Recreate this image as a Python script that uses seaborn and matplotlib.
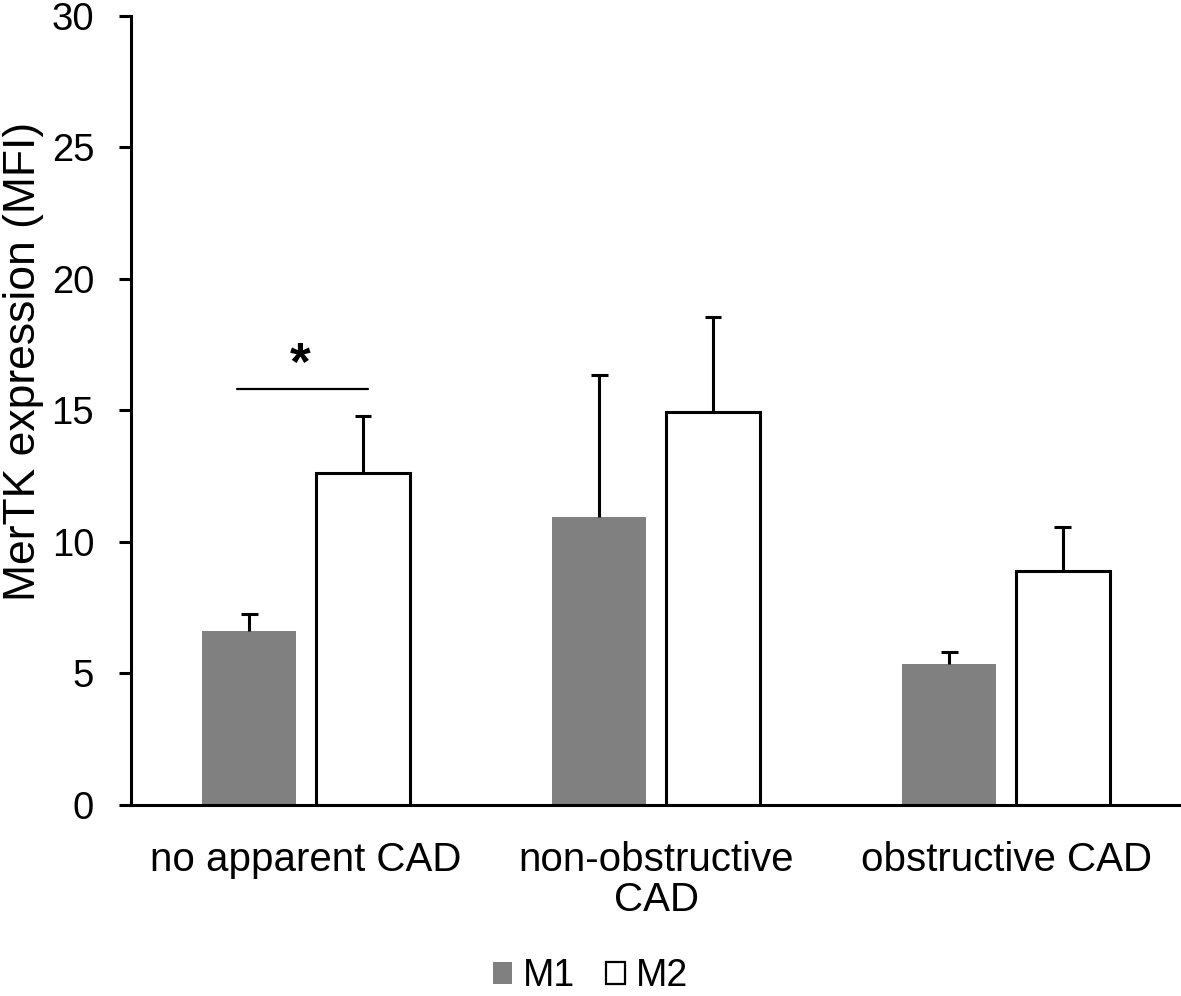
import pandas as pd
import matplotlib.pyplot as plt
import seaborn as sns
from matplotlib.patches import Patch

# values
groups = ['no apparent CAD', 'non-obstructive\nCAD', 'obstructive CAD']
m1_mean = [6.6, 10.95, 5.36]
m1_err = [0.65, 5.4, 0.45]
m2_mean = [12.6, 14.94, 8.9]
m2_err = [2.17, 3.6, 1.66]

sns.set_style('white')
plt.rcParams['font.family'] = ['Liberation Sans', 'DejaVu Sans']
plt.rcParams['text.color'] = 'black'
plt.rcParams['axes.labelcolor'] = 'black'
plt.rcParams['xtick.color'] = 'black'
plt.rcParams['ytick.color'] = 'black'

df = pd.DataFrame({
    'group': groups * 2,
    'cell': ['M1'] * 3 + ['M2'] * 3,
    'value': m1_mean + m2_mean,
})

fig = plt.figure(figsize=(11.81, 9.96), dpi=100)
ax = fig.add_axes([0.111, 0.192, 0.889, 0.792])

sns.barplot(data=df, x='group', y='value', hue='cell',
            palette={'M1': '#808080', 'M2': 'white'},
            width=0.65, gap=0.17, errorbar=None, legend=False, ax=ax)

# M1 bars no outline, M2 bars black outline
for bar in ax.containers[0]:
    bar.set_edgecolor('none')
for bar in ax.containers[1]:
    bar.set_edgecolor('black')
    bar.set_linewidth(2.2)

# upper-only error bars (stem + top cap)
cap = 0.024
for cont, errs in zip(ax.containers, [m1_err, m2_err]):
    for bar, e in zip(cont, errs):
        xc = bar.get_x() + bar.get_width() / 2
        h = bar.get_height()
        ax.vlines(xc, h, h + e, color='black', lw=2.2, zorder=1)
        ax.hlines(h + e, xc - cap, xc + cap, color='black', lw=2.2, zorder=1)

# significance marker
ax.plot([-0.197, 0.177], [15.82, 15.82], color='black', lw=1.6)
ax.text(-0.017, 15.75, '*', ha='center', va='bottom', fontsize=38, fontweight='bold')

ax.set_xlim(-0.5, 2.5)
ax.set_ylim(0, 30)
ax.set_yticks(range(0, 31, 5))
ax.set_xlabel('')
ax.set_ylabel('MerTK expression (MFI)', fontsize=32)
ax.yaxis.set_label_coords(-0.083, 0.562)
ax.tick_params(axis='y', direction='out', length=8.6, width=2.2, pad=18,
               labelsize=27.5, left=True)
ax.tick_params(axis='x', length=0, pad=26, labelsize=29)
for lab in ax.get_xticklabels():
    lab.set_linespacing(1.06)

sns.despine(ax=ax)
for side in ['left', 'bottom']:
    ax.spines[side].set_linewidth(2.2)
    ax.spines[side].set_color('black')

handles = [Patch(facecolor='#808080', edgecolor='none', label='M1'),
           Patch(facecolor='white', edgecolor='black', linewidth=1.6, label='M2')]
fig.legend(handles=handles, loc='lower center', bbox_to_anchor=(0.5, -0.032),
           ncol=2, frameon=False, fontsize=27, handlelength=0.52, handleheight=0.52,
           handletextpad=0.3, columnspacing=0.8)

fig.savefig('out.png', dpi=100)
